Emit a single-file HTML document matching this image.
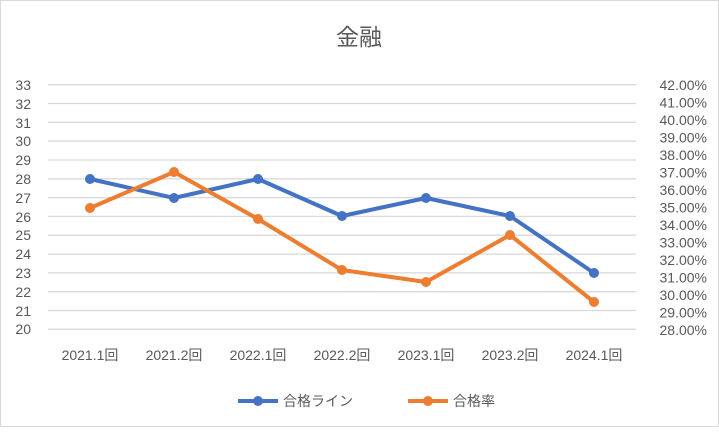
<!DOCTYPE html><html><head><meta charset="utf-8"><style>body{margin:0;background:#fff}</style></head><body>
<svg width="719" height="427" xmlns="http://www.w3.org/2000/svg" font-family="Liberation Sans, Noto Sans CJK JP, sans-serif">
<rect x="0.5" y="0.5" width="718" height="426" fill="#fff" stroke="#d9d9d9"/>
<text x="359" y="45" font-size="23" fill="#595959" text-anchor="middle">金融</text>
<g stroke="#d9d9d9" stroke-width="1.3">
<line x1="48" x2="636" y1="84.7" y2="84.7"/><line x1="48" x2="636" y1="103.5" y2="103.5"/><line x1="48" x2="636" y1="122.3" y2="122.3"/><line x1="48" x2="636" y1="141.2" y2="141.2"/><line x1="48" x2="636" y1="160" y2="160"/><line x1="48" x2="636" y1="178.8" y2="178.8"/><line x1="48" x2="636" y1="197.6" y2="197.6"/><line x1="48" x2="636" y1="216.4" y2="216.4"/><line x1="48" x2="636" y1="235.2" y2="235.2"/><line x1="48" x2="636" y1="254.1" y2="254.1"/><line x1="48" x2="636" y1="272.9" y2="272.9"/><line x1="48" x2="636" y1="291.7" y2="291.7"/><line x1="48" x2="636" y1="310.5" y2="310.5"/><line x1="48" x2="636" y1="329.3" y2="329.3"/>
</g>
<g font-size="14" fill="#595959" text-anchor="end">
<text x="31" y="90">33</text><text x="31" y="109">32</text><text x="31" y="128">31</text><text x="31" y="146">30</text><text x="31" y="165">29</text><text x="31" y="184">28</text><text x="31" y="203">27</text><text x="31" y="222">26</text><text x="31" y="240">25</text><text x="31" y="259">24</text><text x="31" y="278">23</text><text x="31" y="297">22</text><text x="31" y="316">21</text><text x="31" y="334">20</text>
</g>
<g font-size="14" fill="#595959" text-anchor="end">
<text x="707" y="90">42.00%</text><text x="707" y="107.5">41.00%</text><text x="707" y="125">40.00%</text><text x="707" y="142.5">39.00%</text><text x="707" y="160">38.00%</text><text x="707" y="177.5">37.00%</text><text x="707" y="195">36.00%</text><text x="707" y="212.5">35.00%</text><text x="707" y="230">34.00%</text><text x="707" y="247.5">33.00%</text><text x="707" y="265">32.00%</text><text x="707" y="282.5">31.00%</text><text x="707" y="300">30.00%</text><text x="707" y="317.5">29.00%</text><text x="707" y="335">28.00%</text>
</g>
<g font-size="14" fill="#595959" text-anchor="middle">
<text x="90" y="360">2021.1回</text><text x="174" y="360">2021.2回</text><text x="258" y="360">2022.1回</text><text x="342" y="360">2022.2回</text><text x="426" y="360">2023.1回</text><text x="510" y="360">2023.2回</text><text x="594" y="360">2024.1回</text>
</g>
<polyline points="90,179 174,198 258,179 342,216 426,198 510,216 594,273" fill="none" stroke="#4472c4" stroke-width="4" stroke-linejoin="round"/>
<g fill="#4472c4"><circle cx="90" cy="179" r="5"/><circle cx="174" cy="198" r="5"/><circle cx="258" cy="179" r="5"/><circle cx="342" cy="216" r="5"/><circle cx="426" cy="198" r="5"/><circle cx="510" cy="216" r="5"/><circle cx="594" cy="273" r="5"/></g>
<polyline points="90,208 174,172 258,219 342,270 426,282 510,235 594,302" fill="none" stroke="#ed7d31" stroke-width="4" stroke-linejoin="round"/>
<g fill="#ed7d31"><circle cx="90" cy="208" r="5"/><circle cx="174" cy="172" r="5"/><circle cx="258" cy="219" r="5"/><circle cx="342" cy="270" r="5"/><circle cx="426" cy="282" r="5"/><circle cx="510" cy="235" r="5"/><circle cx="594" cy="302" r="5"/></g>
<line x1="238" x2="278" y1="401" y2="401" stroke="#4472c4" stroke-width="4"/><circle cx="258" cy="401" r="5" fill="#4472c4"/>
<text x="283" y="406" font-size="14" fill="#595959">合格ライン</text>
<line x1="408" x2="448" y1="401" y2="401" stroke="#ed7d31" stroke-width="4"/><circle cx="428" cy="401" r="5" fill="#ed7d31"/>
<text x="453" y="406" font-size="14" fill="#595959">合格率</text>
</svg>
</body></html>
